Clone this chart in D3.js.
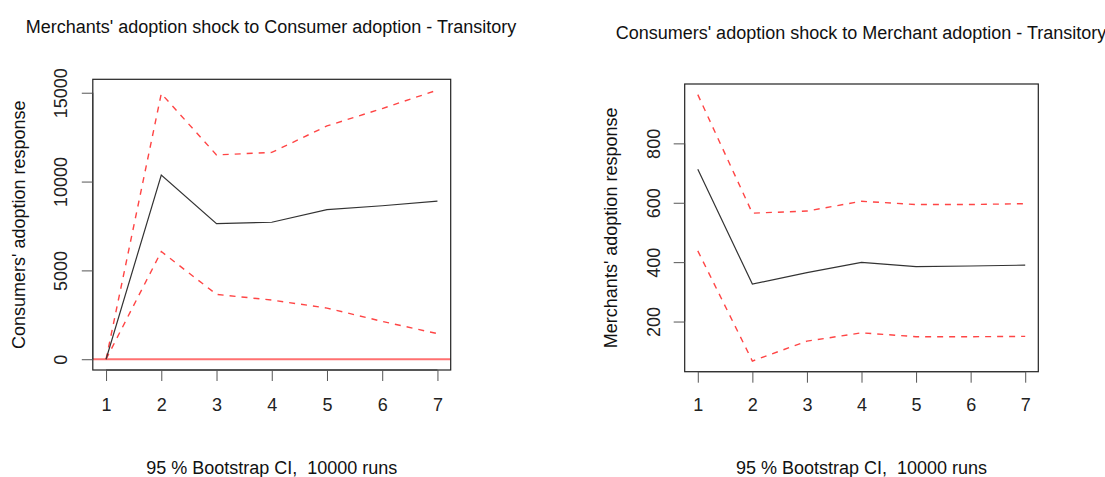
<!DOCTYPE html>
<html>
<head>
<meta charset="utf-8">
<script src="https://cdn.jsdelivr.net/npm/d3@7"></script>
<style>
  html, body { margin: 0; padding: 0; background: #fff; }
  svg { display: block; font-family: "Liberation Sans", Arial, Helvetica, sans-serif; }
  text { white-space: pre; }
</style>
</head>
<body>
<svg id="chart" width="1105" height="477"></svg>
<script>
// ---- Data ----
const periods = [1, 2, 3, 4, 5, 6, 7];
const xTickLabels = ["1", "2", "3", "4", "5", "6", "7"];

// Left panel: Merchants' shock -> Consumer adoption
const leftMean  = [0, 10370, 7630, 7710, 8420, 8640, 8900];
const leftUpper = [0, 14950, 11500, 11640, 13130, 14110, 15150];
const leftLower = [0, 6060, 3650, 3330, 2880, 2130, 1440];
const leftYTicks = [0, 5000, 10000, 15000];

// Right panel: Consumers' shock -> Merchant adoption
const rightMean  = [713, 326, 365, 399, 385, 387, 390];
const rightUpper = [964, 565, 572, 605, 594, 594, 597];
const rightLower = [438, 67, 134, 162, 149, 149, 150];
const rightYTicks = [200, 400, 600, 800];

const panels = [
  { title: "Merchants' adoption shock to Consumer adoption - Transitory",
    ylab: "Consumers' adoption response",
    xlab: "95 % Bootstrap CI,  10000 runs",
    mean: leftMean, upper: leftUpper, lower: leftLower, yTicks: leftYTicks,
    zeroLine: true,
    box: { x0: 92.8, x1: 450.7, y0: 79.3, y1: 370 },
    titleY: 32.5, titleCx: 271, ylabX: 25, yTickX: 67 },
  { title: "Consumers' adoption shock to Merchant adoption - Transitory",
    ylab: "Merchants' adoption response",
    xlab: "95 % Bootstrap CI,  10000 runs",
    mean: rightMean, upper: rightUpper, lower: rightLower, yTicks: rightYTicks,
    zeroLine: false,
    box: { x0: 684.7, x1: 1038.3, y0: 84, y1: 371.7 },
    titleY: 39, titleCx: 861, ylabX: 617, yTickX: 660 }
];

const svg = d3.select("#chart");

function padExtent(lo, hi) {
  const d = (hi - lo) * 0.04;
  return [lo - d, hi + d];
}

panels.forEach(p => {
  const b = p.box;
  const g = svg.append("g");
  const allVals = p.mean.concat(p.upper, p.lower, p.zeroLine ? [0] : []);
  const yDom = padExtent(d3.min(allVals), d3.max(allVals));
  const xDom = padExtent(d3.min(periods), d3.max(periods));
  const x = d3.scaleLinear().domain(xDom).range([b.x0, b.x1]);
  const y = d3.scaleLinear().domain(yDom).range([b.y1, b.y0]);

  // zero reference line
  if (p.zeroLine) {
    g.append("line")
      .attr("x1", b.x0).attr("x2", b.x1)
      .attr("y1", y(0)).attr("y2", y(0))
      .attr("stroke", "#ff7070").attr("stroke-width", 1.8);
  }

  const line = d3.line().x((d, i) => x(periods[i])).y(d => y(d));

  // CI bands (dashed red)
  [p.upper, p.lower].forEach(arr => {
    g.append("path").datum(arr)
      .attr("d", line)
      .attr("fill", "none")
      .attr("stroke", "#ff4545")
      .attr("stroke-width", 1.4)
      .attr("stroke-dasharray", "6,6");
  });

  // mean response
  g.append("path").datum(p.mean)
    .attr("d", line)
    .attr("fill", "none")
    .attr("stroke", "#333")
    .attr("stroke-width", 1.2);

  // box
  g.append("rect")
    .attr("x", b.x0).attr("y", b.y0)
    .attr("width", b.x1 - b.x0).attr("height", b.y1 - b.y0)
    .attr("fill", "none").attr("stroke", "#222").attr("stroke-width", 1.2);

  // x axis
  const xAxis = d3.axisBottom(x)
    .tickValues(periods)
    .tickFormat((d, i) => xTickLabels[i])
    .tickSize(11).tickPadding(16).tickSizeOuter(0);
  const xg = g.append("g").attr("transform", `translate(0,${b.y1})`).call(xAxis);
  xg.select(".domain")
    .attr("d", `M${x(periods[0])},0H${x(periods[periods.length - 1])}`)
    .attr("stroke", "#333");
  xg.selectAll(".tick line").attr("stroke", "#555");
  xg.selectAll(".tick text")
    .attr("font-size", 18).attr("fill", "#222")
    .attr("font-family", '"Liberation Sans", Arial, sans-serif')
    .attr("dy", null).attr("y", 411 - b.y1);

  // y axis
  const yAxis = d3.axisLeft(y).tickValues(p.yTicks).tickFormat(d3.format("d"))
    .tickSize(11).tickSizeOuter(0);
  const yg = g.append("g").attr("transform", `translate(${b.x0},0)`).call(yAxis);
  yg.select(".domain")
    .attr("d", `M0,${y(p.yTicks[0])}V${y(p.yTicks[p.yTicks.length - 1])}`)
    .attr("stroke", "#333");
  yg.selectAll(".tick line").attr("stroke", "#555");
  yg.selectAll(".tick text")
    .attr("font-size", 18).attr("fill", "#222")
    .attr("font-family", '"Liberation Sans", Arial, sans-serif')
    .attr("x", null).attr("dy", null)
    .attr("text-anchor", "middle")
    .attr("transform", `translate(${p.yTickX - b.x0},0) rotate(-90)`);

  // title
  g.append("text")
    .attr("x", p.titleCx).attr("y", p.titleY)
    .attr("text-anchor", "middle")
    .attr("font-size", 18).attr("fill", "#111")
    .text(p.title);

  // x label
  g.append("text")
    .attr("x", (b.x0 + b.x1) / 2).attr("y", 474)
    .attr("text-anchor", "middle")
    .attr("font-size", 18).attr("fill", "#111")
    .text(p.xlab);

  // y label
  g.append("text")
    .attr("transform", `translate(${p.ylabX},${(b.y0 + b.y1) / 2}) rotate(-90)`)
    .attr("text-anchor", "middle")
    .attr("font-size", 18).attr("fill", "#111")
    .text(p.ylab);
});
</script>
</body>
</html>
